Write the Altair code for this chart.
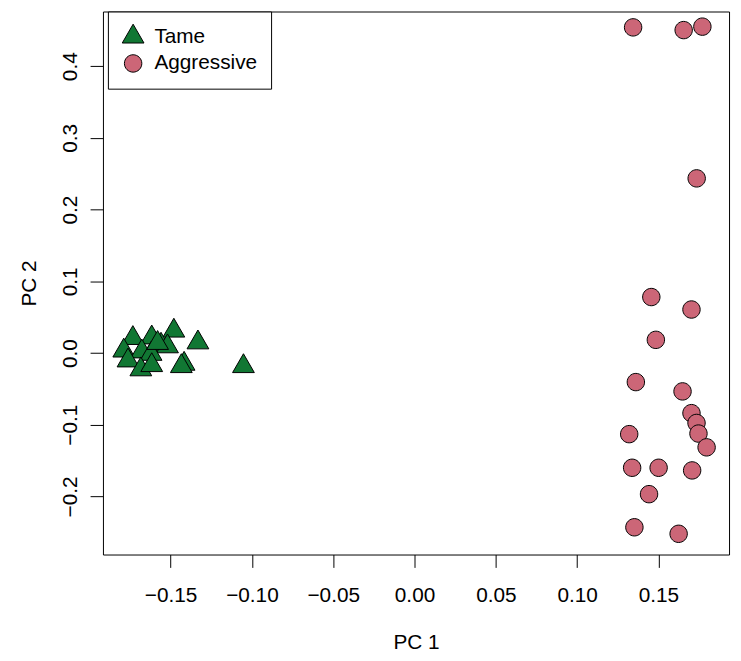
import altair as alt
import pandas as pd

# ---- data ----
groups = ["Tame", "Aggressive"]
colors = ["#117733", "#CC6677"]
outline = ["black", "black"]

tame_pc1 = [-0.1480, -0.1332, -0.1732, -0.1616, -0.1559, -0.1519, -0.1788, -0.1677,
            -0.1620, -0.1762, -0.1683, -0.1616, -0.1417, -0.1434, -0.1052, -0.1580]
tame_pc2 = [0.0310, 0.0146, 0.0207, 0.0215, 0.0114, 0.0091, 0.0032, 0.0020,
            -0.0014, -0.0106, -0.0230, -0.0171, -0.0152, -0.0185, -0.0185, 0.0138]

aggr_pc1 = [0.1456, 0.1703, 0.1484, 0.1361, 0.1648, 0.1703, 0.1734, 0.1746, 0.1320, 0.1796,
            0.1338, 0.1501, 0.1707, 0.1442, 0.1352, 0.1624, 0.1344, 0.1655, 0.1770, 0.1735]
aggr_pc2 = [0.0781, 0.0607, 0.0184, -0.0405, -0.0535, -0.0838, -0.0975, -0.1123, -0.1131, -0.1315,
            -0.1600, -0.1600, -0.1637, -0.1968, -0.2430, -0.2521, 0.4542, 0.4504, 0.4552, 0.2436]

x_ticks = [-0.15, -0.10, -0.05, 0.00, 0.05, 0.10, 0.15]
y_ticks = [-0.2, -0.1, 0.0, 0.1, 0.2, 0.3, 0.4]

# ---- shapes (R-like triangle centred on centroid, slightly smaller circle) ----
tri_path = "M0,-1.155L1,0.577L-1,0.577Z"
circ_path = "M-0.8,0A0.8,0.8,0,1,0,0.8,0A0.8,0.8,0,1,0,-0.8,0Z"
shapes = [tri_path, circ_path]

df = pd.DataFrame({
    "PC1": tame_pc1 + aggr_pc1,
    "PC2": tame_pc2 + aggr_pc2,
    "group": ["Tame"] * len(tame_pc1) + ["Aggressive"] * len(aggr_pc1),
})

FONT = "Liberation Sans"
FS = 21

legend = alt.Legend(
    title=None, orient="none", legendX=5, legendY=0,
    padding=14, rowPadding=5, labelFontSize=FS, labelFont=FONT, labelColor="black",
    labelOffset=10, symbolSize=484, strokeColor="black", fillColor="white",
    symbolStrokeColor="black", symbolStrokeWidth=1, symbolOpacity=1, labelLimit=300,
)

chart = alt.Chart(df).mark_point(
    filled=False, strokeWidth=1, size=484, opacity=1, fillOpacity=1
).encode(
    x=alt.X("PC1:Q",
            scale=alt.Scale(domain=[-0.1916, 0.1934], nice=False, zero=False),
            axis=alt.Axis(values=x_ticks, format=".2f", title="PC 1",
                          tickSize=13, labelPadding=18, titlePadding=26,
                          labelFlush=False, labelOverlap=False)),
    y=alt.Y("PC2:Q",
            scale=alt.Scale(domain=[-0.281, 0.4763], nice=False, zero=False),
            axis=alt.Axis(values=y_ticks, format=".1f", title="PC 2",
                          tickSize=13, labelPadding=10, titlePadding=20,
                          labelAngle=270, labelAlign="center", labelBaseline="bottom",
                          labelFlush=False, labelOverlap=False)),
    fill=alt.Fill("group:N", scale=alt.Scale(domain=groups, range=colors), legend=legend),
    stroke=alt.Stroke("group:N", scale=alt.Scale(domain=groups, range=outline), legend=legend),
    shape=alt.Shape("group:N", scale=alt.Scale(domain=groups, range=shapes), legend=legend),
).properties(
    width=633, height=549,
    autosize=alt.AutoSizeParams(type="none"),
    padding={"left": 96, "top": 0, "right": 4, "bottom": 96},
).configure_view(
    stroke="black", strokeWidth=1
).configure_axis(
    grid=False, domain=False, tickColor="black", tickWidth=1,
    labelFont=FONT, labelFontSize=FS, labelColor="black",
    titleFont=FONT, titleFontSize=FS, titleFontWeight="normal", titleColor="black",
)

chart.save("out.html", embed_options={"renderer": "svg", "actions": False})
